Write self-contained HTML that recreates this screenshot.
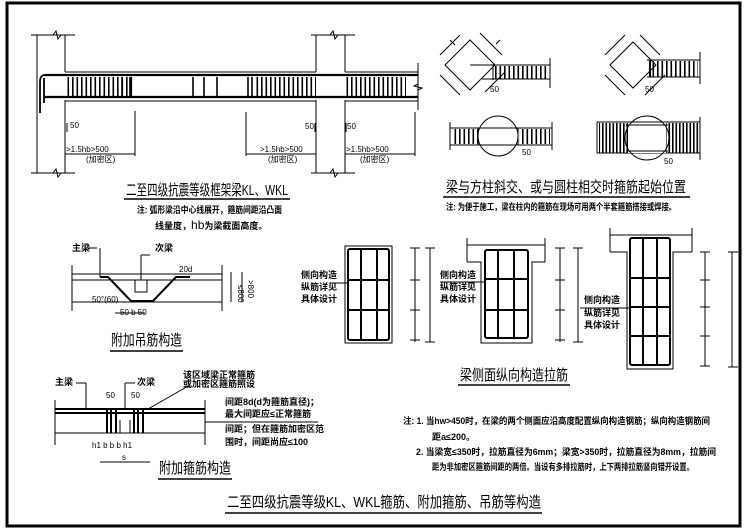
<!DOCTYPE html>
<html><head><meta charset="utf-8"><style>
html,body{margin:0;padding:0;background:#fff;}
svg{display:block;}
text{font-family:"Liberation Sans","Noto Sans CJK SC",sans-serif;fill:#000;}
.t{font-size:15px;}
.n{font-size:9px;font-weight:bold;}
.s{font-size:8px;}
</style></head><body>
<svg width="749" height="530" viewBox="0 0 749 530" xmlns="http://www.w3.org/2000/svg">
<defs>
<pattern id="st" width="4.5" height="10" patternUnits="userSpaceOnUse"><rect x="0" y="0" width="1.6" height="10" fill="#000"/></pattern>
<pattern id="st2" width="3.5" height="10" patternUnits="userSpaceOnUse"><rect x="0" y="0" width="1.6" height="10" fill="#000"/></pattern>
</defs>
<rect x="0" y="0" width="749" height="530" fill="#fff"/>
<rect x="7" y="3" width="733" height="523" fill="none" stroke="#000" stroke-width="3"/>

<g stroke="#000" fill="none" stroke-width="1">
<path d="M31 35H75M53 35l3 -4l2 8l3 -4"/>
<path d="M31 173H75M53 173l3 -4l2 8l3 -4"/>
<path d="M37 35V173M65 35V72M65 100V173"/>
<path d="M311 35H355M330 35l3 -4l2 8l3 -4"/>
<path d="M311 173H355M330 173l3 -4l2 8l3 -4"/>
<path d="M316 35V72M345 35V72M316 100V173M345 100V173"/>
<path d="M65 72H316M345 72H418M65 101H316M345 101H418"/>
<path d="M418 63V110M418 84l-4 2l8 2l-4 2"/>
<path d="M45 75H418M45 97H418" stroke-width="2.2"/>
<path d="M45 75Q40 75 40 82V113M44 78V103" stroke-width="1.8"/>
<rect x="66" y="77" width="68" height="20" fill="url(#st)" stroke="none"/>
<path d="M122 77V97M130 77V97M193 77V97M204 77V97M217 77V97M248 77V97M252 77V97" stroke-width="1.6"/>
<rect x="255" y="77" width="61" height="20" fill="url(#st)" stroke="none"/>
<rect x="346" y="77" width="60" height="20" fill="url(#st)" stroke="none"/>
<path d="M135 111V156M246 112V156M415 112V156"/>
<path d="M65 154H135M246 154H316M345 154H415"/>
<path d="M67 123V132M315 123V132M346 123V132"/>
<path d="M445 65L470 40L495 65L470 90Z"/>
<path d="M440 55l20 -20M455 45l-5 -5 M480 33l22 22M500 40l-4 4 M440 75l20 20M485 92l20 -20"/>
<path d="M470 65H550M482 79H550M493 65V80M550 58V88"/>
<rect x="494" y="66" width="54" height="13" fill="url(#st)" stroke="none"/>
<path d="M610 65L633 42L656 65L633 88Z"/>
<path d="M605 55l20 -20M640 35l20 20M605 75l20 20M645 95l20 -20"/>
<path d="M647 60H700M647 77H700M700 52V84"/>
<rect x="650" y="61" width="48" height="16" fill="url(#st)" stroke="none"/>
<path d="M650 60V77" stroke-width="2"/>
<circle cx="498" cy="136" r="20"/>
<path d="M450 128H552M450 145H552M450 122V150M552 122V150M478 128V145M518 128V145"/>
<rect x="452" y="129" width="26" height="15" fill="url(#st)" stroke="none"/>
<rect x="519" y="129" width="31" height="15" fill="url(#st)" stroke="none"/>
<path d="M597 122H700M597 153H700M597 122V153M700 117V160"/>
<rect x="599" y="123" width="100" height="30" fill="url(#st2)" stroke="none"/>
<rect x="628" y="123" width="38" height="30" fill="#fff" stroke="none"/>
<circle cx="647" cy="138" r="22"/>
<path d="M626 125H668M626 151H668"/>
<path d="M72 265V311M222 265V311M72 274H222M72 280H222M72 302H222"/>
<path d="M135 280V292H147V280M141 255V280"/>
<path d="M100 277H108L131 301H153L176 277H190" stroke-width="2"/>
<path d="M100 248V277M97 248H88M141 255H150"/>
<path d="M231 272V302M242 272V302"/>
<path d="M115 313H145"/>
<path d="M55 409H205M55 413H205" stroke-width="2"/>
<path d="M55 433H205M55 400V445M205 400V445M205 422H318"/>
<path d="M107 410V433M111 410V433M116 410V433M134 410V433M138 410V433M143 410V433" stroke-width="2"/>
<path d="M120 420V433H130V420M125 383V409"/>
<path d="M86 383V410M86 383H76M125 383H135"/>
<path d="M148 409L190 385"/>
<path d="M100 462H150"/>
<rect x="345" y="246" width="47" height="97"/>
<rect x="348" y="249" width="41" height="91" stroke-width="2" rx="2"/>
<path d="M361 249V340M377 249V340M348 280H389M348 310H389" stroke-width="2"/>
<path d="M335 283H349"/>
<path d="M410 248H420M410 280H420M410 310H420M410 340H420M415 248V342M425 248H435M425 342H435M430 248V342"/>
<path d="M467 245H545M467 238V262M545 238V262M467 262H481V343H532V262H545"/>
<rect x="485" y="250" width="43" height="88" stroke-width="2" rx="2"/>
<path d="M498 250V338M514 250V338M485 279H528M485 310H528" stroke-width="2"/>
<path d="M440 282H486"/>
<path d="M555 248H565M555 280H565M555 310H565M555 340H565M560 248V342M573 248H583M573 342H583M578 248V342"/>
<path d="M610 235H692M610 228V252M692 228V252M610 252H627V369H673V252H692"/>
<rect x="630" y="238" width="40" height="127" stroke-width="2" rx="2"/>
<path d="M643 238V365M657 238V365M630 278H670M630 307H670M630 336H670" stroke-width="2"/>
<path d="M580 308H631"/>
<path d="M700 252H710M700 280H710M700 307H710M700 336H710M700 366H710M705 252V366M728 252H738M728 367H738M732 252V367"/>
</g>
<g stroke="#000" stroke-width="1.6">
<path d="M124 199H290M443 197H690M110 351H183M158 479H232M458 385H570M225 513H542"/>
</g>
<text x="70" y="128" class="s">50</text>
<text x="305" y="129" class="s">50</text>
<text x="347" y="129" class="s">50</text>
<text x="66" y="152" class="s">&gt;1.5hb&gt;500</text>
<text x="86" y="162" class="s">(加密区)</text>
<text x="260" y="152" class="s">&gt;1.5hb&gt;500</text>
<text x="268" y="162" class="s">(加密区)</text>
<text x="346" y="152" class="s">&gt;1.5hb&gt;500</text>
<text x="360" y="162" class="s">(加密区)</text>
<text x="126" y="195" class="t" textLength="162" lengthAdjust="spacingAndGlyphs">二至四级抗震等级框架梁KL、WKL</text>
<text x="137" y="213" class="n" font-size="8" textLength="145" lengthAdjust="spacingAndGlyphs">注: 弧形梁沿中心线展开，箍筋间距沿凸面</text>
<text x="155" y="229" class="n" font-size="8">线量度，<tspan font-size="12" font-weight="normal">hb</tspan>为梁截面高度。</text>
<text x="490" y="92" class="s">50</text>
<text x="645" y="92" class="s">50</text>
<text x="522" y="155" class="s">50</text>
<text x="664" y="164" class="s">50</text>
<text x="446" y="192" class="t" textLength="240" lengthAdjust="spacingAndGlyphs">梁与方柱斜交、或与圆柱相交时箍筋起始位置</text>
<text x="446" y="210" class="n" font-size="8" textLength="230" lengthAdjust="spacingAndGlyphs">注: 为便于施工，梁在柱内的箍筋在现场可用两个半套箍筋搭接或焊接。</text>
<text x="72" y="251" class="n">主梁</text>
<text x="155" y="251" class="n">次梁</text>
<text x="179" y="272" class="s">20d</text>
<text x="92" y="302" class="s">50°(60)</text>
<text x="120" y="315" class="s">50  b  50</text>
<text x="238" y="285" class="s" transform="rotate(90 238 285)">≤800</text>
<text x="248" y="280" class="s" transform="rotate(90 248 280)">&gt;800</text>
<text x="111" y="345" class="t" textLength="71" lengthAdjust="spacingAndGlyphs">附加吊筋构造</text>
<text x="55" y="385" class="n">主梁</text>
<text x="137" y="385" class="n">次梁</text>
<text x="106" y="398" class="s">50</text>
<text x="131" y="398" class="s">50</text>
<text x="183" y="378" class="n" font-size="8">该区域梁正常箍筋</text>
<text x="183" y="387" class="n" font-size="8">或加密区箍筋照设</text>
<text x="225" y="405" class="n" font-size="8.5">间距8d(d为箍筋直径)；</text>
<text x="225" y="417" class="n" font-size="8.5">最大间距应≤正常箍筋</text>
<text x="225" y="432" class="n" font-size="8.5">间距；但在箍筋加密区范</text>
<text x="225" y="445" class="n" font-size="8.5">围时，间距尚应≤100</text>
<text x="92" y="448" class="s">h1  b  b  b  h1</text>
<text x="122" y="460" class="s">s</text>
<text x="159" y="473" class="t" textLength="72" lengthAdjust="spacingAndGlyphs">附加箍筋构造</text>
<text x="301" y="278" class="n" font-size="8">侧向构造</text>
<text x="301" y="290" class="n" font-size="8">纵筋详见</text>
<text x="301" y="302" class="n" font-size="8">具体设计</text>
<text x="440" y="278" class="n" font-size="8">侧向构造</text>
<text x="440" y="290" class="n" font-size="8">纵筋详见</text>
<text x="440" y="302" class="n" font-size="8">具体设计</text>
<text x="584" y="303" class="n" font-size="8">侧向构造</text>
<text x="584" y="316" class="n" font-size="8">纵筋详见</text>
<text x="584" y="328" class="n" font-size="8">具体设计</text>
<text x="460" y="380" class="t" textLength="108" lengthAdjust="spacingAndGlyphs">梁侧面纵向构造拉筋</text>
<text x="403" y="424" class="n" font-size="8.5" textLength="307" lengthAdjust="spacingAndGlyphs">注: 1. 当hw&gt;450时，在梁的两个侧面应沿高度配置纵向构造钢筋；纵向构造钢筋间</text>
<text x="432" y="440" class="n" font-size="8.5">距a≤200。</text>
<text x="416" y="455" class="n" font-size="8.5" textLength="300" lengthAdjust="spacingAndGlyphs">2. 当梁宽≤350时，拉筋直径为6mm；梁宽&gt;350时，拉筋直径为8mm，拉筋间</text>
<text x="432" y="470" class="n" font-size="8.5" textLength="262" lengthAdjust="spacingAndGlyphs">距为非加密区箍筋间距的两倍。当设有多排拉筋时，上下两排拉筋竖向错开设置。</text>
<text x="227" y="507" class="t" textLength="314" lengthAdjust="spacingAndGlyphs">二至四级抗震等级KL、WKL箍筋、附加箍筋、吊筋等构造</text>
</svg>
</body></html>
